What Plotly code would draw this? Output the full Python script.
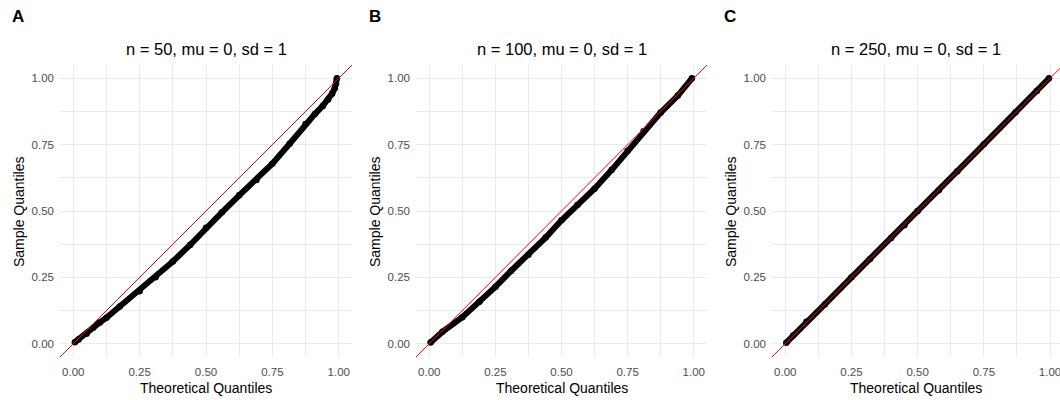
import plotly.graph_objects as go

# ---------------- data ----------------
panel_letters = ["A", "B", "C"]
panel_titles = ["n = 50, mu = 0, sd = 1", "n = 100, mu = 0, sd = 1", "n = 250, mu = 0, sd = 1"]
tick_vals = [0, 0.25, 0.5, 0.75, 1.0]
tick_text = ["0.00", "0.25", "0.50", "0.75", "1.00"]
minor_vals = [0.125, 0.375, 0.625, 0.875]
x_title = "Theoretical Quantiles"
y_title = "Sample Quantiles"

a_theoretical = [0.006, 0.02, 0.05, 0.075, 0.10, 0.125, 0.175, 0.25, 0.31, 0.375, 0.44, 0.50,
                 0.56, 0.625, 0.69, 0.75, 0.815, 0.875, 0.91, 0.94, 0.96, 0.975, 0.985, 0.99, 0.993]
a_sample = [0.006, 0.016, 0.038, 0.060, 0.080, 0.098, 0.140, 0.198, 0.250, 0.310, 0.372, 0.437,
            0.495, 0.559, 0.617, 0.678, 0.753, 0.828, 0.865, 0.896, 0.920, 0.942, 0.962, 0.980, 1.0]

b_theoretical = [0.005, 0.05, 0.125, 0.19, 0.25, 0.31, 0.375, 0.44, 0.50, 0.56, 0.625, 0.69,
                 0.75, 0.81, 0.875, 0.94, 0.993]
b_sample = [0.005, 0.045, 0.100, 0.158, 0.214, 0.275, 0.335, 0.400, 0.465, 0.523, 0.584, 0.655,
            0.727, 0.800, 0.871, 0.935, 1.0]

c_theoretical = [0.004, 0.03, 0.08, 0.15, 0.25, 0.32, 0.40, 0.45, 0.50, 0.58, 0.65, 0.75,
                 0.87, 0.95, 0.996]
c_sample = [0.004, 0.031, 0.083, 0.149, 0.250, 0.319, 0.398, 0.446, 0.500, 0.578, 0.650, 0.751,
            0.872, 0.952, 1.0]

panels = [(a_theoretical, a_sample), (b_theoretical, b_sample), (c_theoretical, c_sample)]

# ---------------- layout geometry ----------------
W, H = 1060, 400
plot_left = [60, 416, 772]
plot_right = [352, 707, 1060]
plot_top, plot_bottom = 65, 357
letter_x = [10, 367, 722]
x_ranges = [[-0.05, 1.05], [-0.05, 1.05], [-0.05, 1.0376]]
y_range = [-0.05, 1.05]

FONT = "Liberation Sans, Arial, sans-serif"
GRID = "#EBEBEB"

fig = go.Figure()
layout = dict(
    width=W, height=H,
    margin=dict(l=0, r=0, t=0, b=0),
    paper_bgcolor="white", plot_bgcolor="white",
    showlegend=False,
    font=dict(family=FONT, color="black"),
)
annotations = []

for i, (xs, ys) in enumerate(panels):
    sfx = "" if i == 0 else str(i + 1)
    xa, ya = "x" + sfx, "y" + sfx
    lo, hi = y_range
    fig.add_trace(go.Scatter(x=xs, y=ys, xaxis=xa, yaxis=ya, mode="lines+markers",
                             line=dict(color="black", width=6),
                             marker=dict(color="black", size=6.5),
                             hoverinfo="skip"))
    # identity reference line across the whole panel range
    fig.add_trace(go.Scatter(x=[lo, hi], y=[lo, hi], xaxis=xa, yaxis=ya, mode="lines",
                             line=dict(color="#FF0000", width=1), hoverinfo="skip"))

    common = dict(showline=False, zeroline=False, ticks="", showgrid=True,
                  gridcolor=GRID, gridwidth=1.1,
                  tickvals=tick_vals, ticktext=tick_text,
                  tickfont=dict(family=FONT, size=11.5, color="#4D4D4D"),
                  minor=dict(tickvals=minor_vals, showgrid=True, gridcolor=GRID, gridwidth=1),
                  ticklabeloverflow="allow",
                  fixedrange=True)
    layout["xaxis" + sfx] = dict(common, domain=[plot_left[i] / W, plot_right[i] / W],
                                 range=x_ranges[i], anchor=ya, ticklabelstandoff=6)
    layout["yaxis" + sfx] = dict(common, domain=[1 - plot_bottom / H, 1 - plot_top / H],
                                 range=y_range, anchor=xa, ticklabelstandoff=5)

    cx = (plot_left[i] + min(plot_right[i], plot_left[i] + 292)) / 2
    annotations.append(dict(text=panel_titles[i], x=cx / W, y=1 - 49 / H, xref="paper", yref="paper",
                            xanchor="center", yanchor="middle", showarrow=False,
                            font=dict(family=FONT, size=16.5, color="black")))
    annotations.append(dict(text="<b>" + panel_letters[i] + "</b>", x=letter_x[i] / W, y=1 - 16 / H,
                            xref="paper", yref="paper", xanchor="left", yanchor="middle",
                            showarrow=False, font=dict(family=FONT, size=17, color="black")))
    annotations.append(dict(text=x_title, x=cx / W, y=1 - 388 / H, xref="paper", yref="paper",
                            xanchor="center", yanchor="middle", showarrow=False,
                            font=dict(family=FONT, size=14, color="black")))
    annotations.append(dict(text=y_title, x=(plot_left[i] - 41) / W, y=1 - 212 / H,
                            xref="paper", yref="paper", xanchor="center", yanchor="middle",
                            textangle=-90, showarrow=False,
                            font=dict(family=FONT, size=14, color="black")))

layout["annotations"] = annotations
fig.update_layout(**layout)
fig.write_html("out.html", config={"displayModeBar": False},
               post_script="document.body.style.margin='0';document.body.style.overflow='hidden';")
